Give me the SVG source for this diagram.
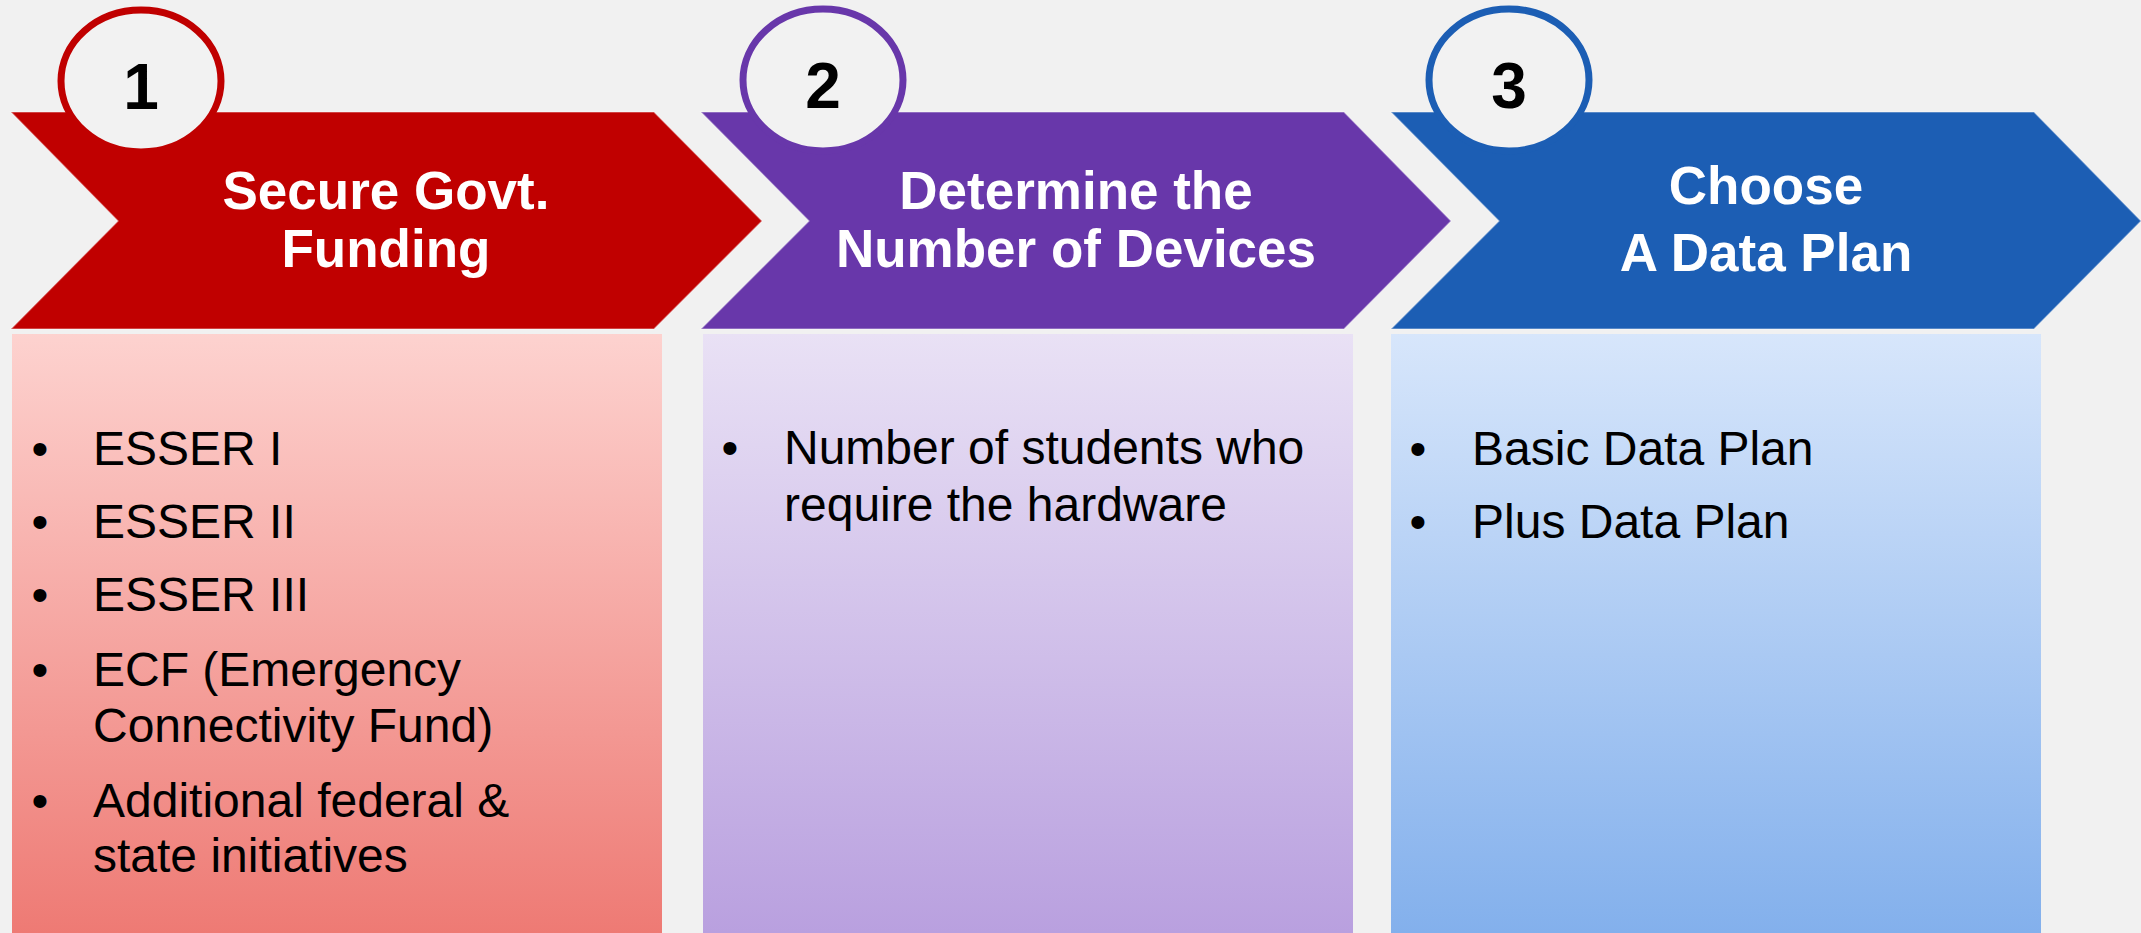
<svg xmlns="http://www.w3.org/2000/svg" width="2141" height="933" viewBox="0 0 2141 933">
  <defs>
    <linearGradient id="gRed" x1="0" y1="0" x2="0" y2="1">
      <stop offset="0" stop-color="#fdd2cf"/>
      <stop offset="1" stop-color="#ee7a74"/>
    </linearGradient>
    <linearGradient id="gPurple" x1="0" y1="0" x2="0" y2="1">
      <stop offset="0" stop-color="#e9e1f5"/>
      <stop offset="1" stop-color="#b9a0df"/>
    </linearGradient>
    <linearGradient id="gBlue" x1="0" y1="0" x2="0" y2="1">
      <stop offset="0" stop-color="#d7e6fb"/>
      <stop offset="1" stop-color="#83b0ec"/>
    </linearGradient>
    <style>
      .chev { stroke: #ffffff; stroke-opacity: 0.35; stroke-width: 1.5; }
      .ring { fill: #f2f2f2; stroke-width: 7; }
      .num { font-family: "Liberation Sans", Arial, sans-serif; font-weight: bold; font-size: 64px; fill: #000000; text-anchor: middle; }
      .title { font-family: "Liberation Sans", Arial, sans-serif; font-weight: bold; font-size: 53px; fill: #ffffff; text-anchor: middle; }
      .body { font-family: "Liberation Sans", Arial, sans-serif; font-size: 48px; fill: #000000; }
      .bullet { font-family: "Liberation Sans", Arial, sans-serif; font-size: 48px; fill: #000000; text-anchor: middle; }
    </style>
  </defs>
  <rect x="0" y="0" width="2141" height="933" fill="#f1f1f1"/>

  <g id="connectors"></g>

  <g id="step1">
    <polygon class="chev" fill="#c00000" points="11,112 654,112 762,221 654,329 11,329 118,221"/>
    <ellipse class="ring" stroke="#c00000" cx="141" cy="81" rx="80" ry="71"/>
    <text class="num" x="141" y="109">1</text>
    <text class="title" x="386" y="209">Secure Govt.</text>
    <text class="title" x="386" y="267">Funding</text>
  </g>

  <g id="box1">
    <rect x="12" y="334" width="650" height="599" fill="url(#gRed)"/>
    <text class="bullet" x="40" y="465">•</text>
    <text class="body" x="93" y="465">ESSER I</text>
    <text class="bullet" x="40" y="538">•</text>
    <text class="body" x="93" y="538">ESSER II</text>
    <text class="bullet" x="40" y="611">•</text>
    <text class="body" x="93" y="611">ESSER III</text>
    <text class="bullet" x="40" y="686">•</text>
    <text class="body" x="93" y="686">ECF (Emergency</text>
    <text class="body" x="93" y="742">Connectivity Fund)</text>
    <text class="bullet" x="40" y="817">•</text>
    <text class="body" x="93" y="817">Additional federal &amp;</text>
    <text class="body" x="93" y="872">state initiatives</text>
  </g>

  <g id="step2">
    <polygon class="chev" fill="#6837aa" points="701,112 1344,112 1451,221 1344,329 701,329 809,221"/>
    <ellipse class="ring" stroke="#6837aa" cx="823" cy="80" rx="80" ry="71"/>
    <text class="num" x="823" y="108">2</text>
    <text class="title" x="1076" y="209">Determine the</text>
    <text class="title" x="1076" y="267">Number of Devices</text>
  </g>

  <g id="box2">
    <rect x="703" y="334" width="650" height="599" fill="url(#gPurple)"/>
    <text class="bullet" x="730" y="464">•</text>
    <text class="body" x="784" y="464">Number of students who</text>
    <text class="body" x="784" y="521">require the hardware</text>
  </g>

  <g id="step3">
    <polygon class="chev" fill="#1c5eb4" points="1391,112 2034,112 2141,221 2034,329 1391,329 1499,221"/>
    <ellipse class="ring" stroke="#1c5eb4" cx="1509" cy="80" rx="80" ry="71"/>
    <text class="num" x="1509" y="108">3</text>
    <text class="title" x="1766" y="204">Choose</text>
    <text class="title" x="1766" y="271">A Data Plan</text>
  </g>

  <g id="box3">
    <rect x="1391" y="334" width="650" height="599" fill="url(#gBlue)"/>
    <text class="bullet" x="1418" y="465">•</text>
    <text class="body" x="1472" y="465">Basic Data Plan</text>
    <text class="bullet" x="1418" y="538">•</text>
    <text class="body" x="1472" y="538">Plus Data Plan</text>
  </g>
</svg>
